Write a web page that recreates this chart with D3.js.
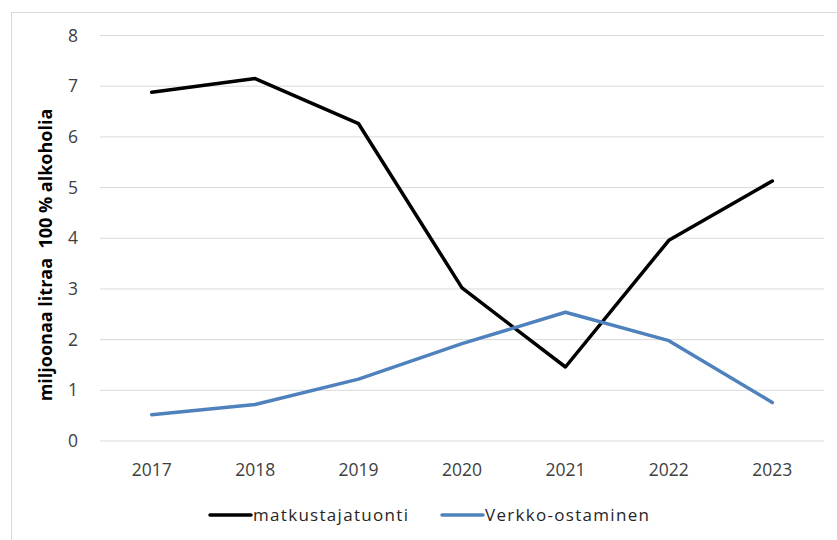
<!DOCTYPE html>
<html>
<head>
<meta charset="utf-8">
<script src="https://cdn.jsdelivr.net/npm/d3@7"></script>
<style>
	body { margin: 0; background: #fff; }
	svg { display: block; font-family: "Open Sans", "Liberation Sans", sans-serif; }
</style>
</head>
<body>
<svg class="chart" width="837" height="540"></svg>
<script>
const years = ['2017', '2018', '2019', '2020', '2021', '2022', '2023'];
const matkustajatuonti = [6.87, 7.14, 6.25, 3.01, 1.45, 3.95, 5.12];
const verkkoOstaminen = [0.51, 0.71, 1.21, 1.91, 2.53, 1.97, 0.75];
const yTicks = [0, 1, 2, 3, 4, 5, 6, 7, 8];
const seriesNames = ['matkustajatuonti', 'Verkko-ostaminen'];
const seriesColors = ['#000000', '#4f81bd'];

function startApp() {
	const svg = d3.select('.chart');
	const plot = {left: 100, right: 824, top: 35, bottom: 440.5};

	// outer frame, only top and left edges fall inside the picture
	svg.append('rect')
		.attr('x', 11.5)
		.attr('y', 12.5)
		.attr('width', 900)
		.attr('height', 600)
		.attr('fill', 'none')
		.attr('stroke', '#d9d9d9');

	const xScale = d3.scaleBand().domain(years).range([plot.left, plot.right]);
	const yScale = d3.scaleLinear().domain([0, 8]).range([plot.bottom, plot.top]);

	const yAxis = d3.axisLeft(yScale)
		.tickValues(yTicks)
		.tickSize(plot.right - plot.left)
		.tickPadding(22);
	svg.append('g')
		.attr('transform', `translate(${plot.right}, 0)`)
		.call(yAxis)
		.attr('font-family', null)
		.attr('font-size', 17.5)
		.call(g => g.select('.domain').remove())
		.call(g => g.selectAll('.tick line').attr('stroke', '#d9d9d9'))
		.call(g => g.selectAll('.tick text').attr('fill', '#404040').attr('dy', '0.35em'));

	const xAxis = d3.axisBottom(xScale).tickSize(0).tickPadding(0);
	svg.append('g')
		.attr('transform', `translate(0, ${plot.bottom})`)
		.call(xAxis)
		.attr('font-family', null)
		.attr('font-size', 17.5)
		.call(g => g.select('.domain').remove())
		.call(g => g.selectAll('.tick text').attr('fill', '#404040').attr('y', 29).attr('dy', '0.35em'));

	svg.append('text')
		.attr('transform', `translate(52, 255) rotate(-90)`)
		.attr('text-anchor', 'middle')
		.attr('font-size', 18)
		.attr('font-weight', 'bold')
		.attr('fill', '#000')
		.attr('xml:space', 'preserve')
		.text('miljoonaa litraa  100 % alkoholia');

	const line = d3.line()
		.x((d, i) => xScale(years[i]) + xScale.bandwidth() / 2)
		.y(d => yScale(d));

	[matkustajatuonti, verkkoOstaminen].forEach((values, i) => {
		svg.append('path')
			.datum(values)
			.attr('fill', 'none')
			.attr('stroke', seriesColors[i])
			.attr('stroke-width', 3.5)
			.attr('stroke-linejoin', 'round')
			.attr('stroke-linecap', 'round')
			.attr('d', line);
	});

	const legendX = [210, 442];
	const legend = svg.append('g').attr('transform', 'translate(0, 515)');
	seriesNames.forEach((name, i) => {
		legend.append('line')
			.attr('x1', legendX[i])
			.attr('x2', legendX[i] + 41)
			.attr('stroke', seriesColors[i])
			.attr('stroke-width', 3.5)
			.attr('stroke-linecap', 'round');
		legend.append('text')
			.attr('x', legendX[i] + 43)
			.attr('dy', '0.35em')
			.attr('font-size', 17)
			.attr('letter-spacing', 1.3)
			.attr('fill', '#262626')
			.text(name);
	});
}

window.onload = startApp;
</script>
</body>
</html>
